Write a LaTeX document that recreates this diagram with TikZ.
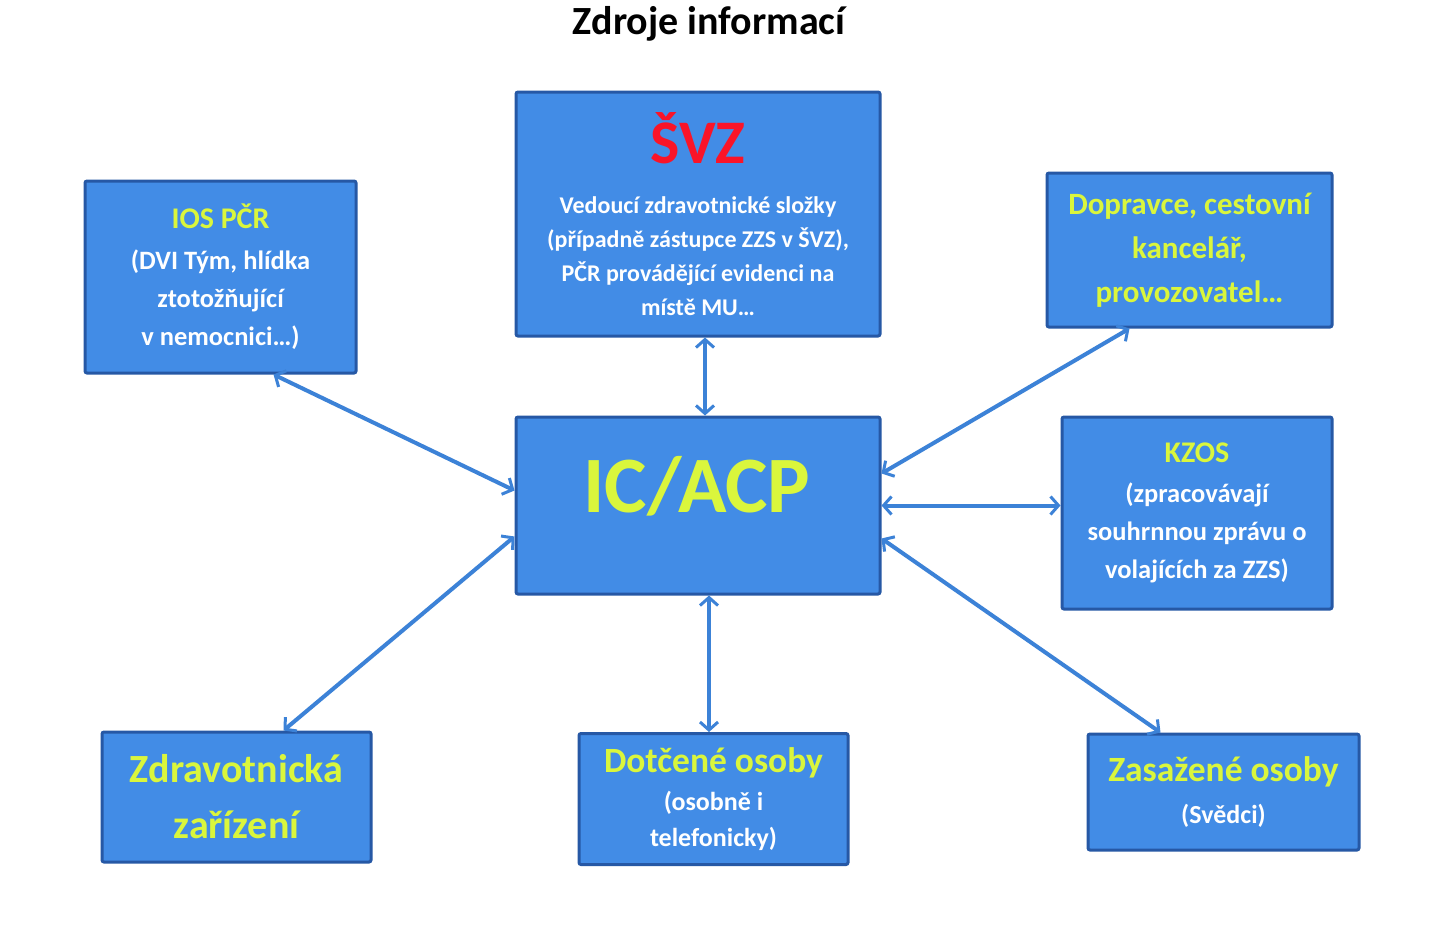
\documentclass[tikz,border=0pt]{standalone}
\usepackage{fontspec}
\setmainfont{Carlito}
\usetikzlibrary{arrows.meta}
\definecolor{boxfill}{RGB}{66,140,230}
\definecolor{boxline}{RGB}{38,88,165}
\definecolor{ylw}{RGB}{218,246,60}
\definecolor{svzred}{RGB}{250,20,40}
\definecolor{arr}{RGB}{60,130,215}
\newcommand{\fs}[2]{\fontsize{#1}{#2}\selectfont}
\begin{document}
\begin{tikzpicture}[x=1pt,y=-1pt,
  box/.style={draw=boxline, line width=3pt, fill=boxfill, rounded corners=2pt,
    align=center, inner sep=0pt, text=white},
  tip/.tip={Straight Barb[length=8pt,width=18pt,line width=3pt]},
  link/.style={draw=arr, line width=4pt, {tip}-{tip}}
]
\fill[white] (0,0) rectangle (1441,937);
\useasboundingbox (0,0) rectangle (1441,937);

\node[font=\fs{40}{42}\bfseries] (title) at (709,24) {Zdroje informací};

\node[box, minimum width=364pt, minimum height=244pt,
  font=\fs{24}{34}\bfseries] (svz) at (698,214)
  {{\fs{62}{62}\color{svzred}ŠVZ}\\[16pt]
   Vedoucí zdravotnické složky\\
   (případně zástupce ZZS v ŠVZ),\\
   PČR provádějící evidenci na\\
   místě MU…};

\node[box, minimum width=271pt, minimum height=192pt,
  font=\fs{26.5}{38}\bfseries] (ios) at (220.5,277)
  {{\fs{30}{38}\color{ylw}IOS PČR}\\[3pt]
   (DVI Tým, hlídka\\
   ztotožňující\\
   v nemocnici…)};

\node[box, minimum width=285pt, minimum height=154pt,
  font=\fs{31}{44}\bfseries, text=ylw] (dop) at (1189.5,250)
  {Dopravce, cestovní\\
   kancelář,\\
   provozovatel…};

\node[box, minimum width=364pt, minimum height=177pt] (ic) at (698,505.5) {};
\node[font=\fs{80}{80}\bfseries, text=ylw] (ictext) at (697,486) {IC/ACP};

\node[box, minimum width=270pt, minimum height=192pt,
  font=\fs{26.5}{38}\bfseries] (kzos) at (1197,513)
  {{\fs{30}{38}\color{ylw}KZOS}\\[2pt]
   (zpracovávají\\
   souhrnnou zprávu o\\
   volajících za ZZS)};

\node[box, minimum width=269pt, minimum height=130pt,
  font=\fs{40}{56}\bfseries, text=ylw] (zdr) at (236.5,797)
  {Zdravotnická\\
   zařízení};

\node[box, minimum width=269pt, minimum height=131pt,
  font=\fs{26}{36}\bfseries] (dot) at (713.5,799)
  {{\fs{35.5}{36}\color{ylw}Dotčené osoby}\\[2pt]
   (osobně i\\
   telefonicky)};

\node[box, minimum width=271pt, minimum height=116pt,
  font=\fs{26}{40}\bfseries] (zas) at (1223.5,792)
  {{\fs{35.5}{40}\color{ylw}Zasažené osoby}\\[2pt]
   (Svědci)};

% connectors
\draw[link] ([xshift=7pt]svz.south) -- ([xshift=7pt]svz.south |- ic.north);
\draw[link] ([xshift=53pt]ios.south) -- ([yshift=15pt]ic.west);
\draw[link] ([xshift=-60pt]dop.south) -- ([yshift=32pt]ic.east);
\draw[link] (ic.east) -- (ic.east -| kzos.west);
\draw[link] ([xshift=47pt]zdr.north) -- ([yshift=-31pt]ic.west);
\draw[link] ([xshift=11pt]ic.south) -- ([xshift=11pt]ic.south |- dot.north);
\draw[link] ([xshift=-63pt]zas.north) -- ([yshift=-33pt]ic.east);
\end{tikzpicture}
\end{document}
